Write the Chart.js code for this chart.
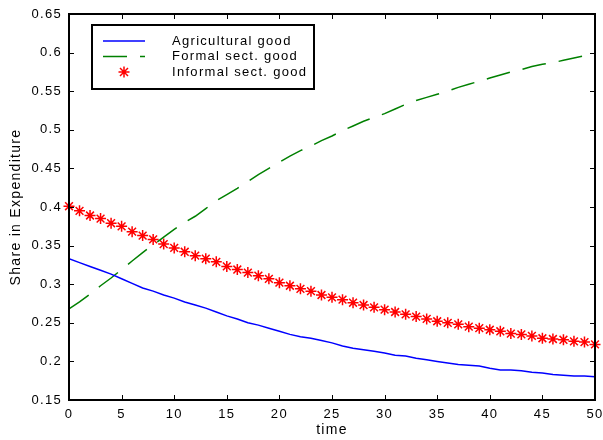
<!DOCTYPE html>
<html>
<head>
<meta charset="utf-8">
<script src="https://cdn.jsdelivr.net/npm/chart.js@4/dist/chart.umd.min.js"></script>
<style>
  html, body { margin: 0; padding: 0; background: #fff; }
  #wrap { width: 603px; height: 440px; }
</style>
</head>
<body>
<div id="wrap"><canvas id="chart"></canvas></div>
<script>
// values
let time = [0,1,2,3,4,5,6,7,8,9,10,11,12,13,14,15,16,17,18,19,20,21,22,23,24,25,
  26,27,28,29,30,31,32,33,34,35,36,37,38,39,40,41,42,43,44,45,46,47,48,49,50];
let agricultural = [0.333,0.328,0.323,0.318,0.313,0.307,0.301,0.295,0.291,0.286,0.282,
  0.277,0.273,0.269,0.264,0.259,0.255,0.250,0.247,0.243,0.239,0.235,0.232,0.230,0.227,
  0.224,0.220,0.217,0.215,0.213,0.211,0.208,0.207,0.204,0.202,0.200,0.198,0.196,0.195,
  0.194,0.191,0.189,0.189,0.188,0.186,0.185,0.183,0.182,0.181,0.181,0.180];
let formal = [0.268,0.277,0.287,0.298,0.308,0.319,0.330,0.341,0.351,0.361,0.371,0.380,
  0.388,0.398,0.408,0.416,0.424,0.433,0.442,0.450,0.458,0.466,0.473,0.479,0.486,0.492,
  0.499,0.505,0.511,0.516,0.521,0.527,0.533,0.538,0.542,0.546,0.550,0.555,0.559,0.563,
  0.567,0.571,0.575,0.578,0.582,0.585,0.587,0.590,0.593,0.596,0.599];
let informal = [0.401,0.395,0.389,0.385,0.379,0.375,0.368,0.363,0.358,0.352,0.347,0.342,
  0.337,0.333,0.329,0.323,0.319,0.315,0.311,0.307,0.302,0.298,0.294,0.291,0.286,0.283,
  0.280,0.276,0.273,0.270,0.267,0.264,0.261,0.258,0.255,0.252,0.250,0.248,0.245,0.243,
  0.241,0.239,0.236,0.235,0.233,0.230,0.229,0.228,0.226,0.225,0.222];
let xTicks = [0,5,10,15,20,25,30,35,40,45,50];
let yTicks = [0.15,0.2,0.25,0.3,0.35,0.4,0.45,0.5,0.55,0.6,0.65];
let legendLabels = ["Agricultural good", "Formal sect. good", "Informal sect. good"];

const spacing = "1.3px";
const font = { family: "'Liberation Sans', Arial, sans-serif", size: 13 };

function pts(values) {
  return time.map((t, i) => ({ x: t, y: values[i] }));
}

// old matlab look: wide letters, box around the axes, ticks pointing in
const letterSpacing = {
  id: "letterSpacing",
  beforeLayout(chart) { chart.ctx.letterSpacing = spacing; },
  beforeDraw(chart) { chart.ctx.letterSpacing = spacing; }
};

const boxAndTicks = {
  id: "boxAndTicks",
  afterDraw(chart) {
    const ctx = chart.ctx;
    const a = chart.chartArea;
    const xs = chart.scales.x, ys = chart.scales.y;
    ctx.save();
    ctx.strokeStyle = "#000";
    ctx.lineWidth = 1;
    ctx.beginPath();
    xs.ticks.forEach((t) => {
      let px = Math.round(xs.getPixelForValue(t.value)) + 0.5;
      ctx.moveTo(px, a.bottom); ctx.lineTo(px, a.bottom - 5);
      ctx.moveTo(px, a.top); ctx.lineTo(px, a.top + 5);
    });
    ys.ticks.forEach((t) => {
      let py = Math.round(ys.getPixelForValue(t.value)) + 0.5;
      ctx.moveTo(a.left, py); ctx.lineTo(a.left + 5, py);
      ctx.moveTo(a.right, py); ctx.lineTo(a.right - 5, py);
    });
    ctx.stroke();
    ctx.lineWidth = 2;
    ctx.strokeRect(a.left, a.top, a.right - a.left, a.bottom - a.top);
    ctx.restore();
  }
};

const boxLegend = {
  id: "boxLegend",
  afterDraw(chart) {
    const ctx = chart.ctx;
    ctx.save();
    ctx.letterSpacing = spacing;
    ctx.fillStyle = "#fff";
    ctx.fillRect(92, 25, 222, 64);
    ctx.strokeStyle = "#000";
    ctx.lineWidth = 2;
    ctx.strokeRect(92, 25, 222, 64);
    const rows = [41, 56.5, 72];
    ctx.lineWidth = 1.5;
    // blue
    ctx.strokeStyle = "#0000ff";
    ctx.beginPath(); ctx.moveTo(103, rows[0]); ctx.lineTo(145, rows[0]); ctx.stroke();
    // green dashed
    ctx.strokeStyle = "#008000";
    ctx.setLineDash([24, 13]);
    ctx.beginPath(); ctx.moveTo(103, rows[1]); ctx.lineTo(145, rows[1]); ctx.stroke();
    ctx.setLineDash([]);
    // red star
    ctx.strokeStyle = "#ff0000";
    ctx.beginPath();
    ctx.moveTo(118.5, rows[2]); ctx.lineTo(129.5, rows[2]);
    ctx.moveTo(124, rows[2] - 5.5); ctx.lineTo(124, rows[2] + 5.5);
    ctx.moveTo(120, rows[2] - 4); ctx.lineTo(128, rows[2] + 4);
    ctx.moveTo(128, rows[2] - 4); ctx.lineTo(120, rows[2] + 4);
    ctx.stroke();
    ctx.fillStyle = "#000";
    ctx.font = "13px 'Liberation Sans', Arial, sans-serif";
    ctx.textBaseline = "middle";
    ctx.textAlign = "left";
    legendLabels.forEach((l, i) => ctx.fillText(l, 172, rows[i]));
    ctx.restore();
  }
};

Chart.defaults.color = "#000";
Chart.defaults.font.family = font.family;
Chart.defaults.font.size = font.size;

new Chart(document.getElementById("chart"), {
  type: "line",
  data: {
    datasets: [
      {
        label: legendLabels[0],
        data: pts(agricultural),
        borderColor: "#0000ff",
        borderWidth: 1.5,
        pointRadius: 0,
        fill: false,
        tension: 0
      },
      {
        label: legendLabels[1],
        data: pts(formal),
        borderColor: "#008000",
        borderWidth: 1.5,
        borderDash: [24, 13],
        pointRadius: 0,
        fill: false,
        tension: 0
      },
      {
        label: legendLabels[2],
        data: pts(informal),
        showLine: false,
        pointStyle: "star",
        pointRadius: 5.5,
        pointBorderWidth: 1.5,
        pointBorderColor: "#ff0000",
        pointBackgroundColor: "#ff0000",
        clip: false
      }
    ]
  },
  options: {
    responsive: true,
    maintainAspectRatio: false,
    animation: false,
    events: [],
    layout: { padding: { top: 14, right: 8, left: 0, bottom: 0 } },
    plugins: {
      legend: { display: false },
      tooltip: { enabled: false }
    },
    scales: {
      x: {
        type: "linear",
        min: 0,
        max: 50,
        grid: { display: false, drawTicks: false },
        border: { display: false },
        ticks: { padding: 7, maxRotation: 0, autoSkip: false },
        afterBuildTicks: (s) => { s.ticks = xTicks.map((v) => ({ value: v })); },
        afterFit: (s) => { s.height = 40; s.paddingLeft = 0; s.paddingRight = 0; },
        title: { display: true, text: "time", font: { size: 14 }, padding: { top: 0, bottom: 1 } }
      },
      y: {
        min: 0.15,
        max: 0.65,
        grid: { display: false, drawTicks: false },
        border: { display: false },
        ticks: { padding: 7, autoSkip: false, callback: (v) => String(v) },
        afterBuildTicks: (s) => { s.ticks = yTicks.map((v) => ({ value: v })); },
        afterFit: (s) => { s.width = 69; s.paddingTop = 0; s.paddingBottom = 0; },
        title: { display: true, text: "Share in Expenditure", font: { size: 14 }, padding: { top: 8, bottom: 0 } }
      }
    }
  },
  plugins: [letterSpacing, boxAndTicks, boxLegend]
});
</script>
</body>
</html>
